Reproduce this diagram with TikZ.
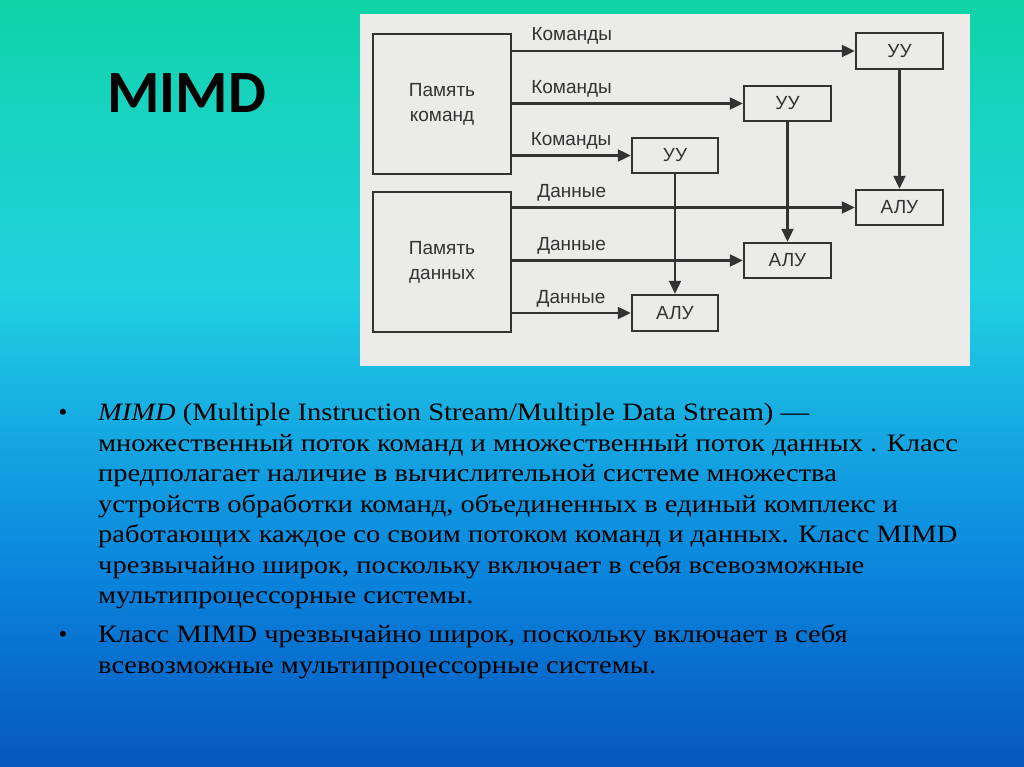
\documentclass[tikz,border=0pt]{standalone}
\usepackage{fontspec}
\setmainfont{Liberation Serif}
\newfontfamily\titlefont{Carlito}
\newfontfamily\diagfont{Liberation Sans}
\newfontfamily\bodyfont[FakeStretch=1.14]{Liberation Serif}
\usetikzlibrary{arrows.meta}
\definecolor{bgA}{HTML}{0ED3A6}
\definecolor{bgB}{HTML}{17D3BE}
\definecolor{bgC}{HTML}{21D1E0}
\definecolor{bgD}{HTML}{15A8E2}
\definecolor{bgE}{HTML}{0A86DD}
\definecolor{bgF}{HTML}{0657BE}
\definecolor{panel}{HTML}{EBEBEA}
\definecolor{ink}{HTML}{333333}
\tikzset{
  box/.style={draw=ink, line width=2.4pt, inner sep=0pt, font=\diagfont\fontsize{19}{25}\selectfont, text=ink},
  arr/.style={draw=ink, line width=2.1pt, -{Triangle[length=13pt,width=12pt]}},
  lbl/.style={anchor=base, yshift=10pt, inner sep=0pt, font=\diagfont\fontsize{19}{20}\selectfont, text=ink},
  bodyline/.style={anchor=base west, inner sep=0pt, font=\bodyfont\fontsize{25}{30}\selectfont, text=black},
  bullet/.style={anchor=base, inner sep=0pt, font=\fontsize{25}{30}\selectfont, text=black},
}
\begin{document}
\begin{tikzpicture}[x=1pt,y=-1pt]
\useasboundingbox (0,0) rectangle (1024,767);
% background gradient
\shade[top color=bgA, bottom color=bgB] (0,0) rectangle (1024,101);
\shade[top color=bgB, bottom color=bgC] (0,100) rectangle (1024,291);
\shade[top color=bgC, bottom color=bgD] (0,290) rectangle (1024,434);
\shade[top color=bgD, bottom color=bgE] (0,433) rectangle (1024,568);
\shade[top color=bgE, bottom color=bgF] (0,567) rectangle (1024,767);
% title
\node[anchor=base west, inner sep=0pt, font=\titlefont\bfseries\fontsize{60}{60}\selectfont] (title) at (107,113) {MIMD};
% diagram panel
\fill[panel] (360,14) rectangle (970,366);
\node[box, minimum width=138pt, minimum height=140pt, align=center] (pk) at (442,104) {Память\\команд};
\node[box, minimum width=138pt, minimum height=140pt, align=center] (pd) at (442,262) {Память\\данных};
\node[box, minimum width=87pt, minimum height=36pt] (u1) at (899.5,51) {УУ};
\node[box, minimum width=87pt, minimum height=35pt] (u2) at (787.5,103.5) {УУ};
\node[box, minimum width=86pt, minimum height=35pt] (u3) at (675,155.5) {УУ};
\node[box, minimum width=87pt, minimum height=35pt] (a1) at (899.5,207.5) {АЛУ};
\node[box, minimum width=87pt, minimum height=35pt] (a2) at (787.5,260.5) {АЛУ};
\node[box, minimum width=86pt, minimum height=36pt] (a3) at (675,313) {АЛУ};
% command streams
\draw[arr] (pk.east |- u1) -- node[lbl, pos=0.174] {Команды} (u1.west);
\draw[arr] (pk.east |- u2) -- node[lbl, pos=0.2575] {Команды} (u2.west);
\draw[arr] (pk.east |- u3) -- node[lbl, pos=0.496] {Команды} (u3.west);
% data streams
\draw[arr] (pd.east |- a1) -- node[lbl, pos=0.174] {Данные} (a1.west);
\draw[arr] (pd.east |- a2) -- node[lbl, pos=0.2575] {Данные} (a2.west);
\draw[arr] (pd.east |- a3) -- node[lbl, pos=0.496] {Данные} (a3.west);
% control to ALU
\draw[arr] (u1.south) -- (a1.north);
\draw[arr] (u2.south) -- (a2.north);
\draw[arr] (u3.south) -- (a3.north);
% body text
\node[bullet] (b1) at (63,420) {•};
\node[bodyline] (l1) at (98,420) {\textit{MIMD} (Multiple Instruction Stream/Multiple Data Stream) —};
\node[bodyline] (l2) at (98,451) {множественный поток команд и множественный поток данных . Класс};
\node[bodyline] (l3) at (98,481) {предполагает наличие в вычислительной системе множества};
\node[bodyline] (l4) at (98,512) {устройств обработки команд, объединенных в единый комплекс и};
\node[bodyline] (l5) at (98,542) {работающих каждое со своим потоком команд и данных. Класс MIMD};
\node[bodyline] (l6) at (98,573) {чрезвычайно широк, поскольку включает в себя всевозможные};
\node[bodyline] (l7) at (98,603) {мультипроцессорные системы.};
\node[bullet] (b2) at (63,642) {•};
\node[bodyline] (l8) at (98,642) {Класс MIMD чрезвычайно широк, поскольку включает в себя};
\node[bodyline] (l9) at (98,673) {всевозможные мультипроцессорные системы.};
\end{tikzpicture}
\end{document}
